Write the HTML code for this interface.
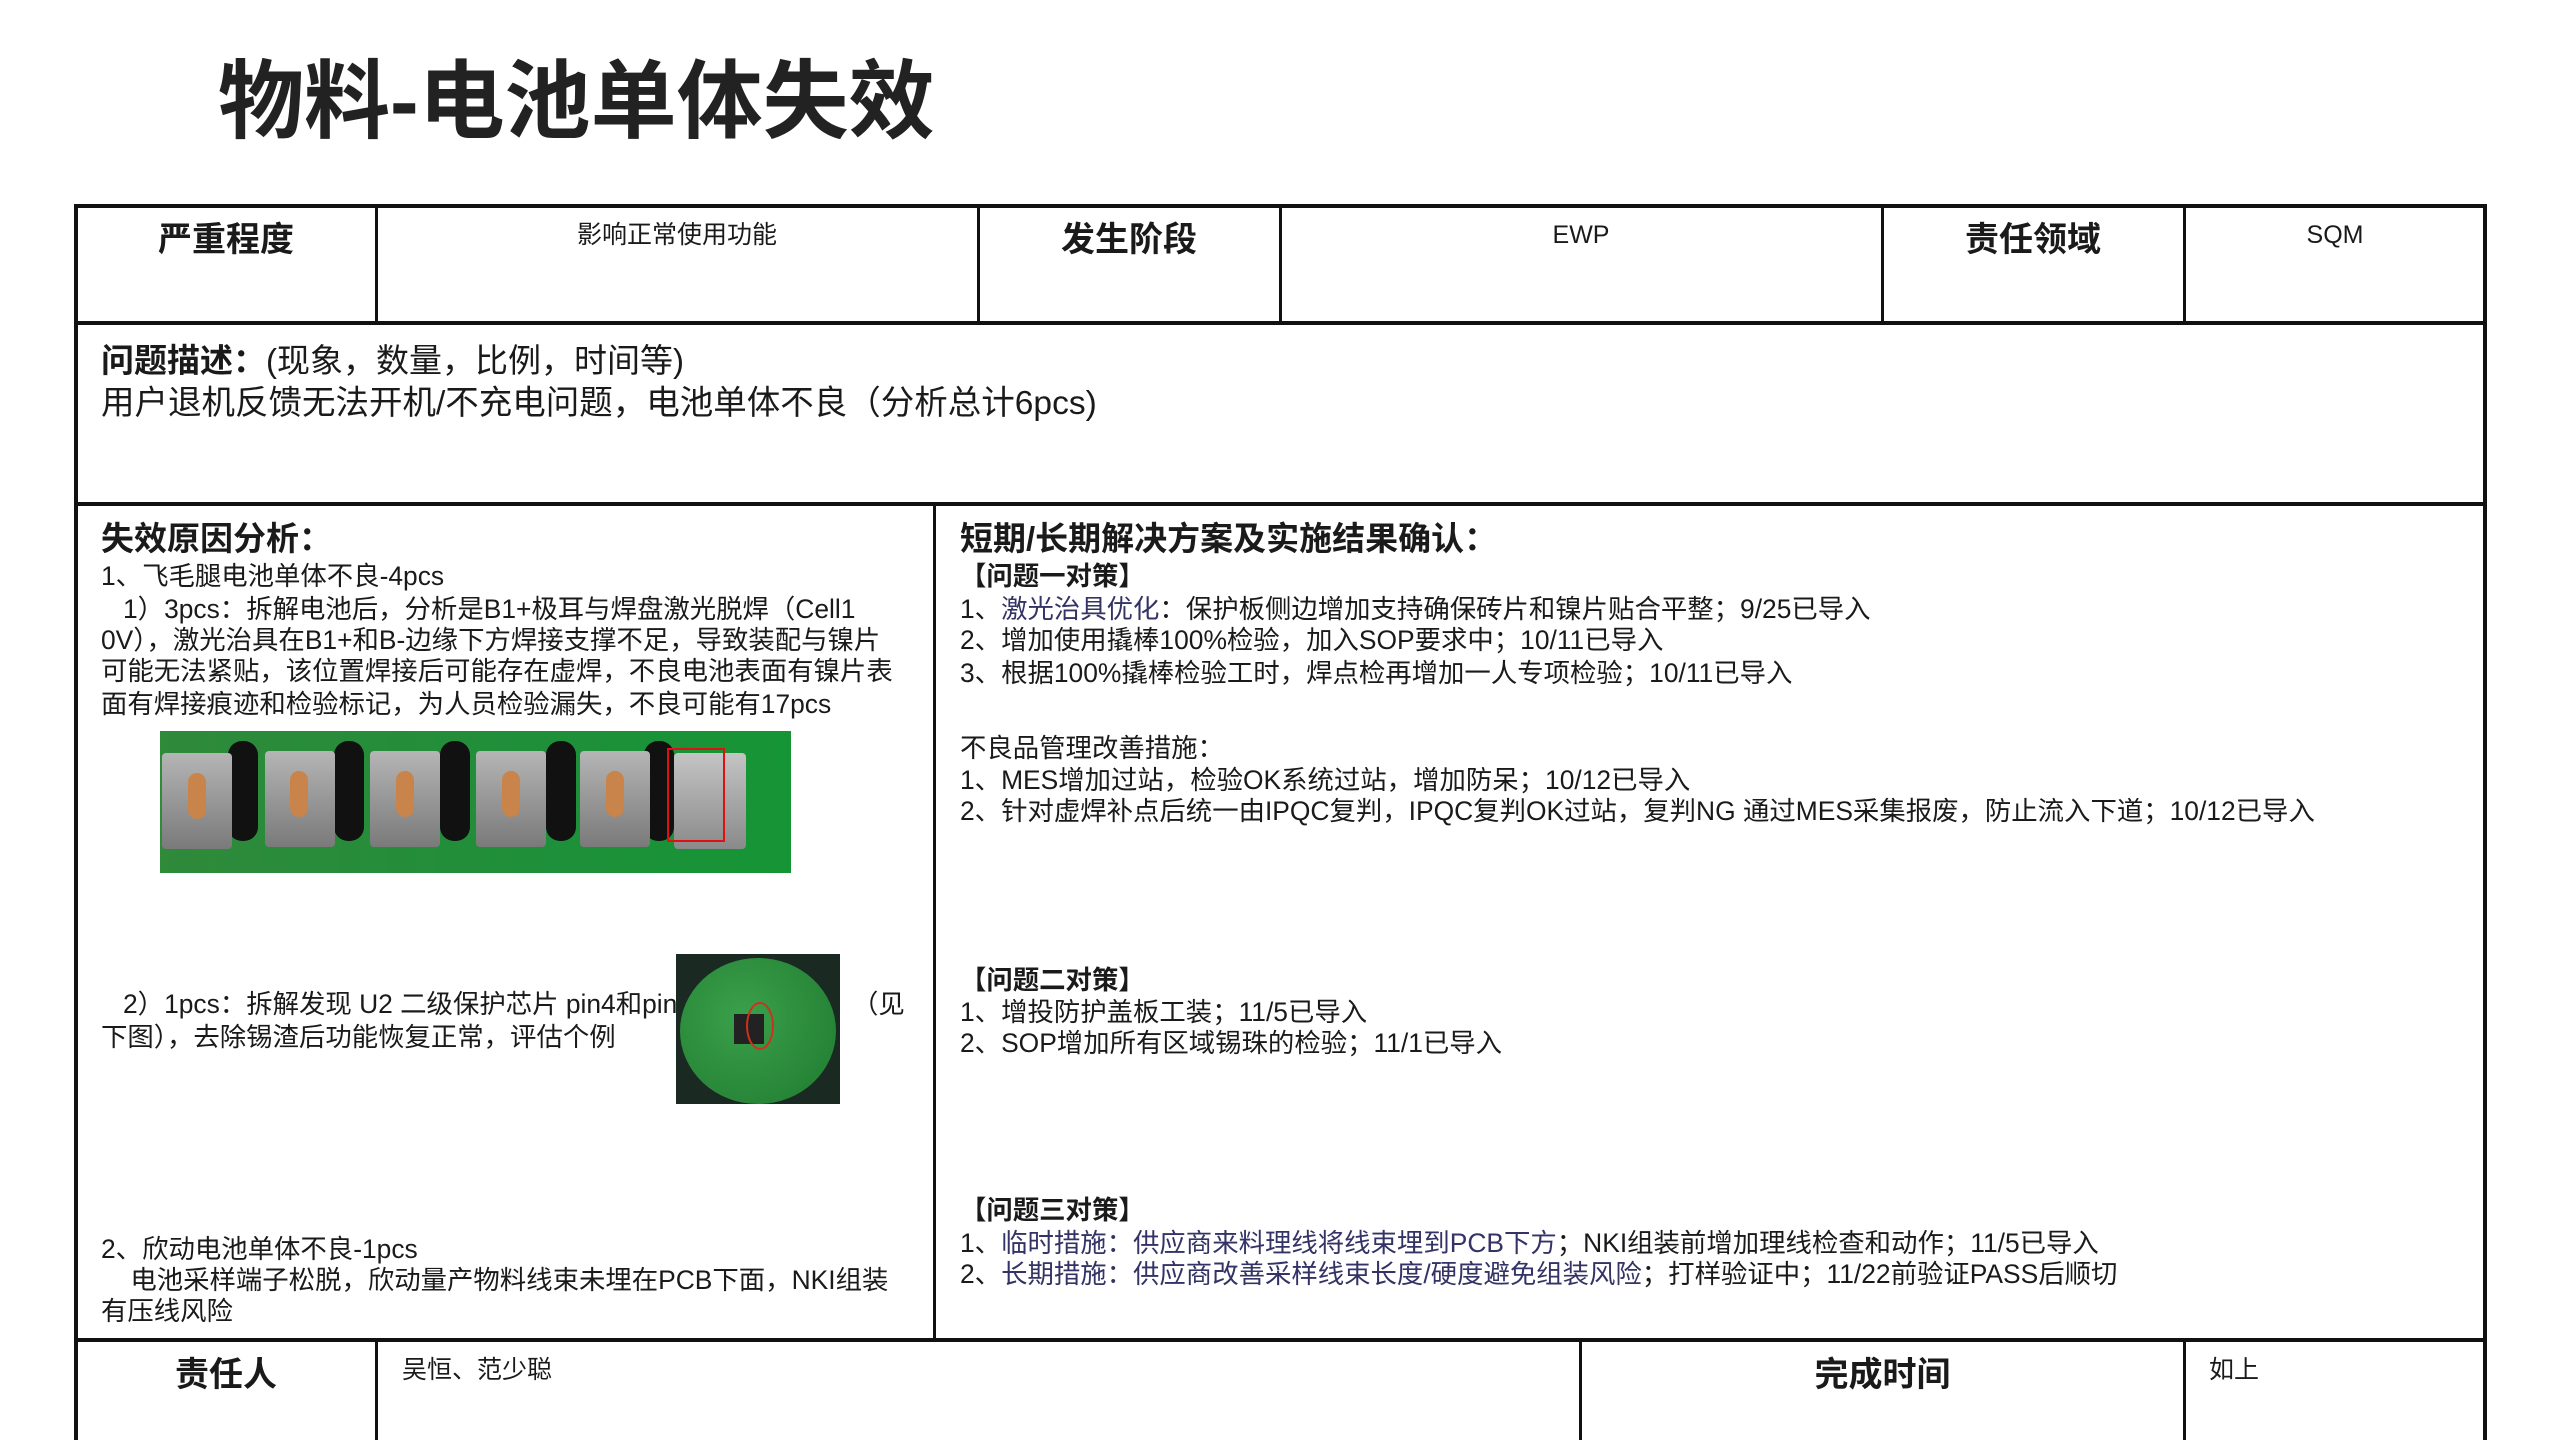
<!DOCTYPE html>
<html><head><meta charset="utf-8">
<style>
body{margin:0;width:2560px;height:1440px;background:#fff;position:relative;overflow:hidden;font-family:"Liberation Sans","Noto Sans CJK SC",sans-serif;color:#1a1a1a}
.t{position:absolute;white-space:nowrap;font-size:26.4px;line-height:32px}
.b{font-weight:bold}
.h{position:absolute;white-space:nowrap;font-size:34px;line-height:40px;font-weight:bold;text-align:center}
.v{position:absolute;white-space:nowrap;font-size:25px;line-height:30px;text-align:center}
.l{position:absolute;background:#111}
.tab{position:absolute;width:70px;height:96px;background:linear-gradient(#b5b5b5,#7a7a7a);border-radius:4px}
.slot{position:absolute;width:30px;height:100px;background:#111;border-radius:14px}
.cu{position:absolute;width:18px;height:46px;background:#c8844a;border-radius:9px}
</style></head><body>
<div style="position:absolute;left:218px;top:54px;font-size:86px;line-height:96px;font-weight:bold;white-space:nowrap;color:#222">物料-电池单体失效</div>

<div class="l" style="left:74px;top:204px;width:2413px;height:4px"></div>
<div class="l" style="left:74px;top:321px;width:2413px;height:4px"></div>
<div class="l" style="left:74px;top:502px;width:2413px;height:4px"></div>
<div class="l" style="left:74px;top:1338px;width:2413px;height:4px"></div>
<div class="l" style="left:74px;top:204px;width:4px;height:1236px"></div>
<div class="l" style="left:2483px;top:204px;width:4px;height:1236px"></div>
<div class="l" style="left:375px;top:204px;width:3px;height:119px"></div>
<div class="l" style="left:977px;top:204px;width:3px;height:119px"></div>
<div class="l" style="left:1279px;top:204px;width:3px;height:119px"></div>
<div class="l" style="left:1881px;top:204px;width:3px;height:119px"></div>
<div class="l" style="left:2183px;top:204px;width:3px;height:119px"></div>
<div class="l" style="left:933px;top:504px;width:3px;height:836px"></div>
<div class="l" style="left:375px;top:1340px;width:3px;height:100px"></div>
<div class="l" style="left:1579px;top:1340px;width:3px;height:100px"></div>
<div class="l" style="left:2183px;top:1340px;width:3px;height:100px"></div>

<div class="h" style="left:76px;width:300px;top:220px">严重程度</div>
<div class="v" style="left:377px;width:600px;top:220px">影响正常使用功能</div>
<div class="h" style="left:979px;width:300px;top:220px">发生阶段</div>
<div class="v" style="left:1281px;width:600px;top:220px">EWP</div>
<div class="h" style="left:1883px;width:300px;top:220px">责任领域</div>
<div class="v" style="left:2185px;width:300px;top:220px">SQM</div>

<div class="t" style="left:101px;top:342px;font-size:33px;line-height:38px"><b>问题描述：</b>(现象，数量，比例，时间等)</div>
<div class="t" style="left:101px;top:385px;font-size:33.5px;line-height:38px">用户退机反馈无法开机/不充电问题，电池单体不良（分析总计6pcs)</div>

<div class="t b" style="left:101px;top:520px;font-size:33px;line-height:38px">失效原因分析：</div>
<div class="t" style="left:101px;top:560px">1、飞毛腿电池单体不良-4pcs</div>
<div class="t" style="left:101px;top:593px">&nbsp;&nbsp;&nbsp;1）3pcs：拆解电池后，分析是B1+极耳与焊盘激光脱焊（Cell1</div>
<div class="t" style="left:101px;top:624px">0V），激光治具在B1+和B-边缘下方焊接支撑不足，导致装配与镍片</div>
<div class="t" style="left:101px;top:655px">可能无法紧贴，该位置焊接后可能存在虚焊，不良电池表面有镍片表</div>
<div class="t" style="left:101px;top:688px">面有焊接痕迹和检验标记，为人员检验漏失，不良可能有17pcs</div>

<div style="position:absolute;left:160px;top:731px;width:631px;height:142px;background:linear-gradient(90deg,#2f8a3a,#1f8f3a 60%,#159535);overflow:hidden">
 <div class="slot" style="left:68px;top:10px"></div>
 <div class="slot" style="left:174px;top:10px"></div>
 <div class="slot" style="left:280px;top:10px"></div>
 <div class="slot" style="left:386px;top:10px"></div>
 <div class="slot" style="left:484px;top:10px"></div>
 <div class="tab" style="left:2px;top:22px"></div><div class="cu" style="left:28px;top:42px"></div>
 <div class="tab" style="left:105px;top:20px"></div><div class="cu" style="left:130px;top:40px"></div>
 <div class="tab" style="left:210px;top:20px"></div><div class="cu" style="left:236px;top:40px"></div>
 <div class="tab" style="left:316px;top:20px"></div><div class="cu" style="left:342px;top:40px"></div>
 <div class="tab" style="left:420px;top:20px"></div><div class="cu" style="left:446px;top:40px"></div>
 <div class="tab" style="left:514px;top:22px;width:72px;background:linear-gradient(#c4c4c4,#8a8a8a)"></div>
 <div style="position:absolute;left:507px;top:17px;width:54px;height:90px;border:2px solid #e01010"></div>
</div>

<div class="t" style="left:101px;top:988px">&nbsp;&nbsp;&nbsp;2）1pcs：拆解发现 U2 二级保护芯片 pin4和pin</div>
<div class="t" style="left:852px;top:988px">（见</div>
<div class="t" style="left:101px;top:1021px">下图），去除锡渣后功能恢复正常，评估个例</div>
<div style="position:absolute;left:676px;top:954px;width:164px;height:150px;background:#1a2a22;overflow:hidden">
 <div style="position:absolute;left:4px;top:4px;width:156px;height:146px;border-radius:50%;background:radial-gradient(circle at 40% 40%,#3aa04a,#1f7a30)"></div>
 <div style="position:absolute;left:58px;top:60px;width:30px;height:30px;background:#222"></div>
 <div style="position:absolute;left:70px;top:48px;width:24px;height:44px;border:2px solid #d03020;border-radius:50%"></div>
</div>

<div class="t" style="left:101px;top:1233px">2、欣动电池单体不良-1pcs</div>
<div class="t" style="left:101px;top:1264px">&nbsp;&nbsp;&nbsp;&nbsp;电池采样端子松脱，欣动量产物料线束未埋在PCB下面，NKI组装</div>
<div class="t" style="left:101px;top:1295px">有压线风险</div>

<div class="t b" style="left:960px;top:520px;font-size:33px;line-height:38px">短期/长期解决方案及实施结果确认：</div>
<div class="t b" style="left:960px;top:560px">【问题一对策】</div>
<div class="t" style="left:960px;top:593px">1、<span style="color:#333366">激光治具优化</span>：保护板侧边增加支持确保砖片和镍片贴合平整；9/25已导入</div>
<div class="t" style="left:960px;top:624px">2、增加使用撬棒100%检验，加入SOP要求中；10/11已导入</div>
<div class="t" style="left:960px;top:657px">3、根据100%撬棒检验工时，焊点检再增加一人专项检验；10/11已导入</div>
<div class="t" style="left:960px;top:732px">不良品管理改善措施：</div>
<div class="t" style="left:960px;top:764px">1、MES增加过站，检验OK系统过站，增加防呆；10/12已导入</div>
<div class="t" style="left:960px;top:795px">2、针对虚焊补点后统一由IPQC复判，IPQC复判OK过站，复判NG 通过MES采集报废，防止流入下道；10/12已导入</div>
<div class="t b" style="left:960px;top:964px">【问题二对策】</div>
<div class="t" style="left:960px;top:996px">1、增投防护盖板工装；11/5已导入</div>
<div class="t" style="left:960px;top:1027px">2、SOP增加所有区域锡珠的检验；11/1已导入</div>
<div class="t b" style="left:960px;top:1194px">【问题三对策】</div>
<div class="t" style="left:960px;top:1227px">1、<span style="color:#333366">临时措施：供应商来料理线将线束埋到PCB下方</span>；NKI组装前增加理线检查和动作；11/5已导入</div>
<div class="t" style="left:960px;top:1258px">2、<span style="color:#333366">长期措施：供应商改善采样线束长度/硬度避免组装风险</span>；打样验证中；11/22前验证PASS后顺切</div>

<div class="h" style="left:76px;width:300px;top:1355px">责任人</div>
<div class="t" style="left:402px;top:1354px;font-size:25px">吴恒、范少聪</div>
<div class="h" style="left:1581px;width:603px;top:1355px">完成时间</div>
<div class="t" style="left:2209px;top:1354px;font-size:25px">如上</div>
</body></html>
